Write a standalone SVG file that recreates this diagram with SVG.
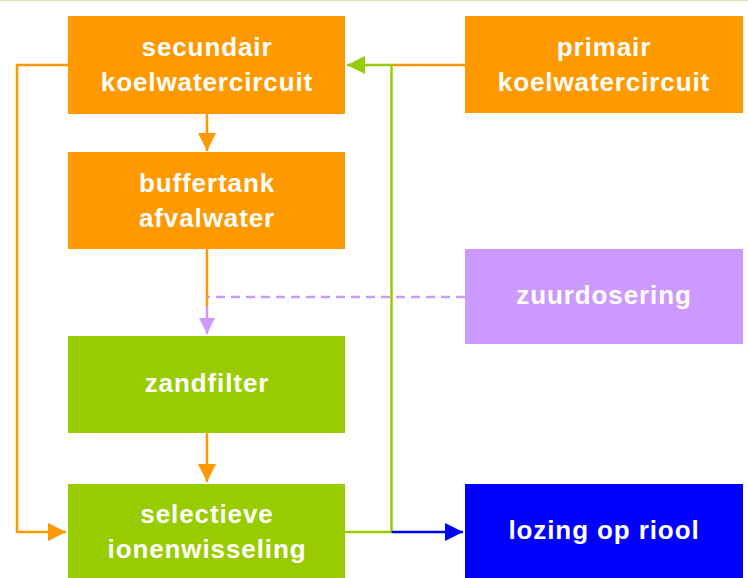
<svg xmlns="http://www.w3.org/2000/svg" width="748" height="578" viewBox="0 0 748 578">
<style>
.t{font-family:"Liberation Sans",Arial,sans-serif;font-weight:bold;font-size:26px;fill:#fff;text-anchor:middle;letter-spacing:0.9px}
.c{fill:none;stroke-width:2.5}
</style>
<defs>
<marker id="ao" markerUnits="userSpaceOnUse" markerWidth="20" markerHeight="20" refX="18" refY="9" orient="auto"><path d="M0,0L18,9L0,18z" fill="#FF9900"/></marker>
<marker id="ag" markerUnits="userSpaceOnUse" markerWidth="20" markerHeight="20" refX="18" refY="9" orient="auto"><path d="M0,0L18,9L0,18z" fill="#99CC00"/></marker>
<marker id="ap" markerUnits="userSpaceOnUse" markerWidth="20" markerHeight="20" refX="16" refY="8" orient="auto"><path d="M0,0L16,8L0,16z" fill="#CC99FF"/></marker>
<marker id="ab" markerUnits="userSpaceOnUse" markerWidth="20" markerHeight="20" refX="18" refY="9" orient="auto"><path d="M0,0L18,9L0,18z" fill="#0000FF"/></marker>
</defs>
<rect width="748" height="578" fill="#fff"/>
<line x1="0" y1="0.5" x2="748" y2="0.5" stroke="#D6E4B8" stroke-width="1.5"/>
<g id="connectors">
<path class="c" stroke="#FF9900" d="M68,65H17V532H66" marker-end="url(#ao)"/>
<path class="c" stroke="#FF9900" d="M465,65H391.5"/>
<path class="c" stroke="#99CC00" d="M391.5,532V65H347" marker-end="url(#ag)"/>
<path class="c" stroke="#99CC00" d="M345,532H391.5"/>
<path class="c" stroke="#0000FF" d="M391.5,532H463" marker-end="url(#ab)"/>
<path class="c" stroke="#FF9900" d="M207,114V151" marker-end="url(#ao)"/>
<path class="c" stroke="#FF9900" d="M207,249V306"/>
<path class="c" stroke="#CC99FF" d="M207,306V334" marker-end="url(#ap)"/>
<path class="c" stroke="#CC99FF" stroke-dasharray="9,6" d="M465,297H207"/>
<path class="c" stroke="#FF9900" d="M207,433V482" marker-end="url(#ao)"/>
</g>
<g id="secundair"><rect x="68" y="16" width="277" height="98" fill="#FF9900"/><text class="t" x="207" y="56">secundair</text><text class="t" x="207" y="91">koelwatercircuit</text></g>
<g id="primair"><rect x="465" y="16" width="278" height="97" fill="#FF9900"/><text class="t" x="604" y="56">primair</text><text class="t" x="604" y="91">koelwatercircuit</text></g>
<g id="buffertank"><rect x="68" y="152" width="277" height="97" fill="#FF9900"/><text class="t" x="207" y="192">buffertank</text><text class="t" x="207" y="227">afvalwater</text></g>
<g id="zuurdosering"><rect x="465" y="249" width="278" height="95" fill="#CC99FF"/><text class="t" x="604" y="304">zuurdosering</text></g>
<g id="zandfilter"><rect x="68" y="336" width="277" height="97" fill="#99CC00"/><text class="t" x="207" y="392">zandfilter</text></g>
<g id="selectieve"><rect x="68" y="484" width="277" height="94" fill="#99CC00"/><text class="t" x="207" y="523">selectieve</text><text class="t" x="207" y="558">ionenwisseling</text></g>
<g id="lozing"><rect x="465" y="484" width="278" height="94" fill="#0000FF"/><text class="t" x="604" y="539">lozing op riool</text></g>
</svg>
